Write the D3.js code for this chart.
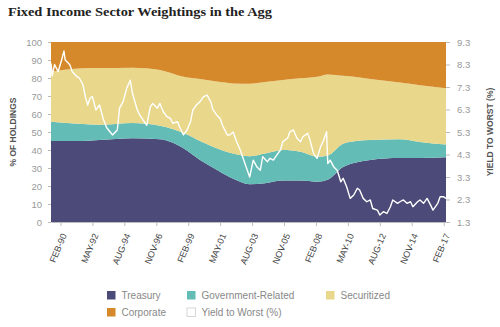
<!DOCTYPE html>
<html>
<head>
<meta charset="utf-8">
<script src="https://cdn.jsdelivr.net/npm/d3@7"></script>
<style>
  body { margin: 0; background: #fff; }
  svg { display: block; font-family: "Liberation Sans", Arial, sans-serif; }
</style>
</head>
<body>
<svg width="500" height="327"></svg>
<script>
// sector weightings (% of holdings), sampled along the chart
const sectorDates = ['1989-06', '1991-09', '1992-11', '1995-03', '1997-02', '1998-10', '1999-12', '2001-02',
  '2002-04', '2003-06', '2004-07', '2005-10', '2007-01', '2008-03', '2008-12', '2010-01', '2010-12', '2011-12',
  '2014-01', '2015-06', '2017-04'];
const treasury = [45, 45, 45.5, 46.5, 46, 41, 34.5, 29, 24, 21, 21.5, 23, 23, 22.4, 23.5, 30.5, 33, 34.5, 35.5, 35.5, 36];
const govRelated = [10.7, 9.5, 8.5, 8.5, 7.5, 8.4, 10.5, 12, 14, 15.5, 16.5, 17, 16, 13.9, 13.5, 13, 12, 11, 10.5, 9, 7];
const securitized = [27.8, 30.9, 31.5, 30.7, 30.9, 31.3, 34.5, 37, 39, 40.3, 39.8, 38.9, 40.8, 44.4, 45, 37.7, 35.5, 34, 31.5, 31.5, 31.3];
const corporate = [16.5, 14.6, 14.5, 14.3, 15.6, 19.3, 20.5, 22, 23, 23.2, 22.2, 21.1, 20.2, 19.3, 18, 18.8, 19.5, 20.5, 22.5, 24, 25.7];

// yield to worst (%)
const yieldDates = ['1989-06', '1989-07', '1989-09', '1989-12', '1990-03', '1990-05', '1990-06', '1990-08', '1990-10',
  '1990-12', '1991-04', '1991-06', '1991-09', '1991-11', '1992-01', '1992-03', '1992-05', '1992-08', '1992-11',
  '1993-02', '1993-05', '1993-08', '1993-10', '1994-02', '1994-04', '1994-07', '1994-10', '1995-01', '1995-03',
  '1995-07', '1995-09', '1995-12', '1996-03', '1996-06', '1996-08', '1996-12', '1997-02', '1997-05', '1997-08',
  '1997-11', '1998-01', '1998-05', '1998-07', '1998-10', '1999-01', '1999-04', '1999-06', '1999-09', '1999-12',
  '2000-03', '2000-06', '2000-09', '2000-11', '2001-02', '2001-05', '2001-07', '2001-11', '2002-01', '2002-04',
  '2002-07', '2002-10', '2002-12', '2003-04', '2003-06', '2003-09', '2003-12', '2004-03', '2004-05', '2004-09',
  '2004-11', '2005-02', '2005-05', '2005-08', '2005-10', '2006-02', '2006-04', '2006-07', '2006-10', '2007-01',
  '2007-03', '2007-07', '2007-09', '2007-12', '2008-03', '2008-06', '2008-08', '2008-11', '2008-12', '2009-02',
  '2009-05', '2009-08', '2009-11', '2010-01', '2010-04', '2010-07', '2010-10', '2011-01', '2011-03', '2011-06',
  '2011-09', '2011-12', '2012-02', '2012-06', '2012-08', '2012-11', '2013-02', '2013-05', '2013-07', '2013-11',
  '2014-01', '2014-04', '2014-07', '2014-10', '2014-12', '2015-04', '2015-06', '2015-09', '2015-12', '2016-03',
  '2016-05', '2016-09', '2016-11', '2017-02', '2017-04'];
const yieldToWorst = [8.35, 7.8, 8.3, 7.98, 8.5, 8.9, 8.5, 8.4, 8.28,
  7.98, 7.76, 7.7, 7.4, 6.87, 6.5, 6.8, 6.87, 6.28, 6.5,
  5.9, 5.5, 5.3, 5.17, 5.39, 6.36, 6.65, 7.24, 7.6, 7.0,
  6.28, 6.06, 5.83, 5.6, 6.43, 6.57, 6.36, 6.57, 6.2, 5.98,
  5.9, 5.69, 5.76, 5.5, 5.17, 5.39, 5.76, 6.28, 6.5, 6.65,
  6.87, 6.94, 6.65, 6.28, 6.06, 5.9, 5.6, 5.17, 5.17, 5.3,
  4.87, 4.5, 4.2, 3.6, 3.3, 4.05, 3.76, 3.6, 4.2, 3.98,
  4.13, 4.05, 4.28, 4.5, 4.87, 5.02, 5.31, 5.39, 5.02, 4.87,
  5.09, 5.24, 4.94, 4.35, 4.13, 4.65, 4.87, 5.31, 3.9, 4.05,
  3.76, 3.6, 3.09, 3.24, 2.87, 2.35, 2.5, 2.8, 2.72, 2.35,
  2.2, 2.28, 1.9, 1.83, 1.61, 1.76, 1.68, 1.98, 2.28, 2.13,
  2.2, 2.28, 2.13, 2.2, 1.98, 2.2, 2.28, 2.13, 2.35, 2.05,
  1.83, 2.13, 2.42, 2.42, 2.35];

const xTickDates = ['1990-02', '1992-05', '1994-08', '1996-11', '1999-02', '2001-05', '2003-08',
  '2005-11', '2008-02', '2010-05', '2012-08', '2014-11', '2017-02'];
const leftTicks = [0, 10, 20, 30, 40, 50, 60, 70, 80, 90, 100];
const rightTicks = [1.3, 2.3, 3.3, 4.3, 5.3, 6.3, 7.3, 8.3, 9.3];

const keys = ['Treasury', 'Government-Related', 'Securitized', 'Corporate'];
const colors = ['#4b4a78', '#63bdb6', '#e9d78b', '#d6892b'];

const parse = d3.timeParse('%Y-%m');
const fmt = d3.timeFormat('%b-%y');

const svg = d3.select('svg');
const plotLeft = 51, plotRight = 446, plotTop = 42, plotBottom = 222;

const x = d3.scaleTime()
  .domain([parse('1989-06'), parse('2017-04')])
  .range([plotLeft, plotRight]);
const y = d3.scaleLinear().domain([0, 100]).range([plotBottom, plotTop]);
const y2 = d3.scaleLinear().domain([1.3, 9.3]).range([plotBottom, plotTop]);

let table = sectorDates.map((d, i) => ({
  date: parse(d),
  'Treasury': treasury[i],
  'Government-Related': govRelated[i],
  'Securitized': securitized[i],
  'Corporate': corporate[i]
}));

const series = d3.stack().keys(keys)(table);

const area = d3.area()
  .curve(d3.curveMonotoneX)
  .x(d => x(d.data.date))
  .y0(d => y(d[0]))
  .y1(d => y(d[1]));

svg.append('g').selectAll('path')
  .data(series)
  .enter()
  .append('path')
  .attr('d', area)
  .attr('fill', (d, i) => colors[i]);

// yield line
let yields = yieldDates.map((d, i) => ({ date: parse(d), value: yieldToWorst[i] }));
svg.append('path')
  .datum(yields)
  .attr('fill', 'none')
  .attr('stroke', '#fff')
  .attr('stroke-width', 1.4)
  .attr('stroke-linejoin', 'round')
  .attr('d', d3.line().x(d => x(d.date)).y(d => y2(d.value)));

// bottom axis
const xAxis = svg.append('g')
  .attr('transform', `translate(0,${plotBottom})`)
  .call(d3.axisBottom(x).tickValues(xTickDates.map(parse)).tickFormat(d => fmt(d).toUpperCase()).tickSize(4).tickSizeOuter(0));
xAxis.select('.domain').attr('stroke', '#bbb');
xAxis.selectAll('.tick line').attr('stroke', '#bbb');
xAxis.selectAll('text')
  .attr('x', 0).attr('y', 0).attr('dy', '0.35em')
  .attr('fill', '#444')
  .style('font-size', '9px')
  .attr('text-anchor', 'end')
  .attr('transform', 'translate(3,12) rotate(-67)');

// left axis
const yAxis = svg.append('g')
  .attr('transform', `translate(${plotLeft},0)`)
  .call(d3.axisLeft(y).tickValues(leftTicks).tickSize(3).tickPadding(6));
yAxis.select('.domain').remove();
yAxis.selectAll('.tick line').attr('stroke', '#bbb');
yAxis.selectAll('text').attr('fill', '#999').style('font-size', '9.5px');

// right axis
const y2Axis = svg.append('g')
  .attr('transform', `translate(${plotRight},0)`)
  .call(d3.axisRight(y2).tickValues(rightTicks).tickFormat(d3.format('.1f')).tickSize(4).tickPadding(7));
y2Axis.select('.domain').remove();
y2Axis.selectAll('.tick line').attr('stroke', '#bbb');
y2Axis.selectAll('text').attr('fill', '#999').style('font-size', '9.5px');

// titles
svg.append('text')
  .attr('x', 8).attr('y', 15.5)
  .attr('font-family', '"Liberation Serif", "DejaVu Serif", serif')
  .attr('font-weight', 'bold')
  .attr('font-size', 13)
  .attr('textLength', 264)
  .attr('lengthAdjust', 'spacingAndGlyphs')
  .attr('fill', '#222')
  .text('Fixed Income Sector Weightings in the Agg');

svg.append('text')
  .attr('transform', `translate(16,${(plotTop + plotBottom) / 2}) rotate(-90)`)
  .attr('text-anchor', 'middle')
  .attr('font-size', 8.5)
  .attr('font-weight', 'bold')
  .attr('fill', '#555')
  .text('% OF HOLDINGS');

svg.append('text')
  .attr('transform', `translate(493,${(plotTop + plotBottom) / 2}) rotate(-90)`)
  .attr('text-anchor', 'middle')
  .attr('font-size', 8.5)
  .attr('font-weight', 'bold')
  .attr('fill', '#555')
  .text('YIELD TO WORST (%)');

// legend
const legendItems = [
  { name: 'Treasury', color: colors[0], x: 107, y: 291 },
  { name: 'Government-Related', color: colors[1], x: 187, y: 291 },
  { name: 'Securitized', color: colors[2], x: 326, y: 291 },
  { name: 'Corporate', color: colors[3], x: 107, y: 308 },
  { name: 'Yield to Worst (%)', color: '#fff', x: 187, y: 308 }
];
const legend = svg.append('g').selectAll('g')
  .data(legendItems)
  .enter()
  .append('g')
  .attr('transform', d => `translate(${d.x},${d.y})`);
legend.append('rect')
  .attr('width', 8.5).attr('height', 8.5)
  .attr('fill', d => d.color)
  .attr('stroke', d => d.color == '#fff' ? '#ccc' : 'none')
  .attr('stroke-width', 0.8);
legend.append('text')
  .attr('x', 14.5).attr('y', 8)
  .attr('font-size', 10)
  .attr('fill', '#888')
  .text(d => d.name);
</script>
</body>
</html>
